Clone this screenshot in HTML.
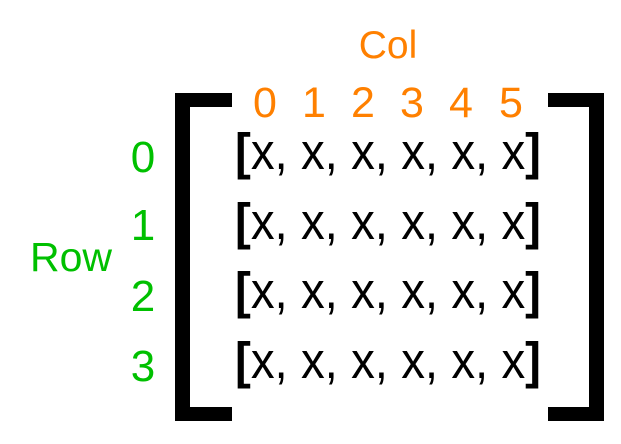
<!DOCTYPE html>
<html><head><meta charset="utf-8"><style>
html,body{margin:0;padding:0;background:#fff;width:621px;height:444px;overflow:hidden}
text{font-family:"Liberation Sans",Arial,sans-serif}
</style></head><body>
<svg width="621" height="444" viewBox="0 0 621 444">
<g fill="#000">
<rect x="175" y="93" width="15" height="328"/>
<rect x="175" y="93" width="57" height="14"/>
<rect x="175" y="407" width="57" height="14"/>
</g>
<g fill="#000">
<rect x="589" y="93" width="15" height="328"/>
<rect x="548" y="93" width="56" height="14"/>
<rect x="548" y="407" width="56" height="14"/>
</g>
<text x="388" y="58" font-size="39" fill="#ff8000" text-anchor="middle">Col</text>
<g fill="#ff8000" font-size="43" text-anchor="middle">
<text x="265" y="117">0</text><text x="314" y="117">1</text><text x="363" y="117">2</text>
<text x="412" y="117">3</text><text x="461" y="117">4</text><text x="511" y="117">5</text>
</g>
<text x="71" y="271" font-size="41" fill="#00c000" text-anchor="middle">Row</text>
<g fill="#00c000" font-size="44" text-anchor="middle">
<text x="143" y="172">0</text><text x="143" y="240">1</text><text x="143" y="311">2</text><text x="143" y="381">3</text>
</g>
<g font-size="51" fill="#000">
<text x="235" y="169" textLength="306" lengthAdjust="spacingAndGlyphs"><tspan font-weight="bold">[</tspan>x, x, x, x, x, x<tspan font-weight="bold">]</tspan></text>
<text x="235" y="239" textLength="306" lengthAdjust="spacingAndGlyphs"><tspan font-weight="bold">[</tspan>x, x, x, x, x, x<tspan font-weight="bold">]</tspan></text>
<text x="235" y="308" textLength="306" lengthAdjust="spacingAndGlyphs"><tspan font-weight="bold">[</tspan>x, x, x, x, x, x<tspan font-weight="bold">]</tspan></text>
<text x="235" y="378" textLength="306" lengthAdjust="spacingAndGlyphs"><tspan font-weight="bold">[</tspan>x, x, x, x, x, x<tspan font-weight="bold">]</tspan></text>
</g>
</svg>
</body></html>
